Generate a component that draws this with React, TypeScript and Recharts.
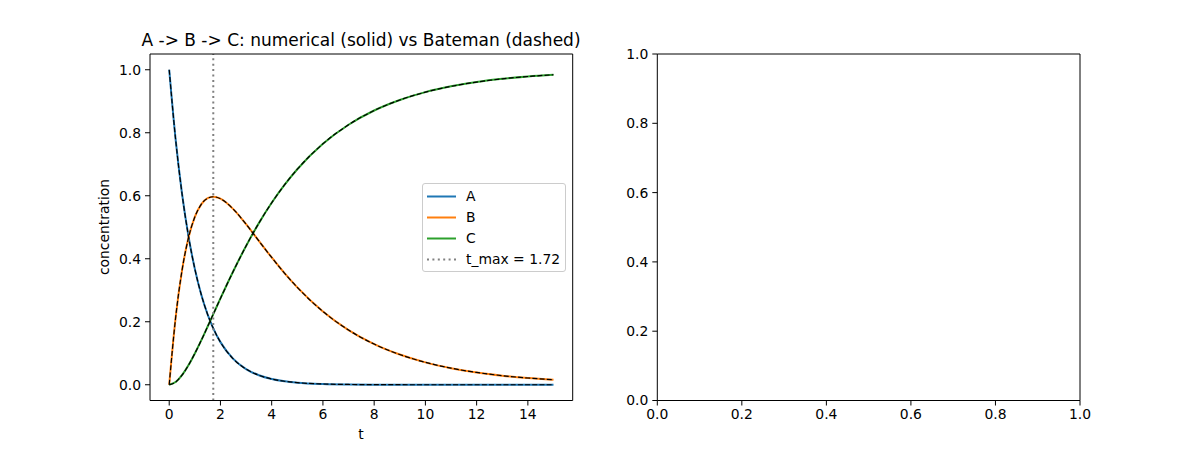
import React from 'react'
import { LineChart, Line, XAxis, YAxis, ReferenceLine } from 'recharts'

// ── Data ─────────────────────────────────────────────────────────────────────
const T = [0, 0.25, 0.5, 0.75, 1, 1.25, 1.5, 1.72, 2, 2.5, 3, 3.5, 4, 4.5, 5, 6, 7, 8, 9, 10, 11, 12, 13, 14, 15]
const A_VALS = [1, 0.7788, 0.6065, 0.4724, 0.3679, 0.2865, 0.2231, 0.1791, 0.1353, 0.0821, 0.0498, 0.0302, 0.0183, 0.0111, 0.0067, 0.0025, 0.0009, 0.0003, 0.0001, 0, 0, 0, 0, 0, 0]
const B_VALS = [0, 0.2127, 0.3631, 0.4659, 0.5327, 0.5726, 0.5921, 0.5969, 0.5907, 0.5576, 0.5097, 0.4567, 0.4041, 0.3544, 0.3091, 0.2326, 0.1737, 0.1291, 0.0959, 0.0711, 0.0527, 0.039, 0.0289, 0.0214, 0.0159]
const C_VALS = [0, 0.0085, 0.0304, 0.0617, 0.0994, 0.1409, 0.1848, 0.224, 0.274, 0.3603, 0.4405, 0.5131, 0.5776, 0.6345, 0.6842, 0.7649, 0.8254, 0.8706, 0.904, 0.9289, 0.9473, 0.961, 0.9711, 0.9786, 0.9841]
const T_MAX = 1.72

const X_TICKS = [0, 2, 4, 6, 8, 10, 12, 14]
const Y_TICKS = [0, 0.2, 0.4, 0.6, 0.8, 1.0]
const EMPTY_TICKS = [0, 0.2, 0.4, 0.6, 0.8, 1.0]

const SERIES = [
  { key: 'A', color: '#1f77b4' },
  { key: 'B', color: '#ff7f0e' },
  { key: 'C', color: '#2ca02c' },
]

const rows = T.map((t, i) => ({ t, A: A_VALS[i], B: B_VALS[i], C: C_VALS[i] }))
// empty second panel: just the two corners so the axes get a domain
const emptyRows = [{ x: 0, y: 0 }, { x: 1, y: 1 }]

const FONT = '"DejaVu Sans", sans-serif'
const tickStyle = { fill: '#000', fontSize: 13.9, fontFamily: FONT }
const fmt1 = (v: number) => v.toFixed(1)
const DOTTED = '2 3.4'

function Txt({ x, y, size = 13.9, rotate = 0, children }: { x: number; y: number; size?: number; rotate?: number; children: React.ReactNode }) {
  return (
    <div
      style={{
        position: 'absolute', left: x, top: y, fontSize: size, fontFamily: FONT, lineHeight: 1,
        whiteSpace: 'nowrap', color: '#000',
        transform: `translate(-50%, -50%) rotate(${rotate}deg)`,
      }}
    >
      {children}
    </div>
  )
}

function LegendBox() {
  const items = [
    ...SERIES.map((s) => ({ label: s.key, color: s.color, dash: undefined as string | undefined })),
    { label: 't_max = 1.72', color: '#808080', dash: DOTTED },
  ]
  return (
    <div
      style={{
        position: 'absolute', left: 422, top: 183, width: 144, height: 89,
        border: '1px solid #cccccc', borderRadius: 3, background: 'rgba(255,255,255,0.8)',
        boxSizing: 'border-box',
      }}
    >
      {items.map((it, i) => (
        <div key={it.label} style={{ position: 'absolute', left: 0, top: 4 + i * 21, height: 17, width: 140 }}>
          <svg width={36} height={17} style={{ position: 'absolute', left: 3, top: 0 }}>
            <line x1={1} x2={30} y1={8.5} y2={8.5} stroke={it.color} strokeWidth={2} strokeDasharray={it.dash} />
          </svg>
          <span style={{ position: 'absolute', left: 43, top: 1.5, fontSize: 13.9, fontFamily: FONT, lineHeight: 1 }}>{it.label}</span>
        </div>
      ))}
    </div>
  )
}

export default function App() {
  return (
    <div style={{ position: 'fixed', left: 0, top: 0, width: 1200, height: 450, background: '#fff' }}>
      {/* Left: kinetics */}
      <div style={{ position: 'absolute', left: 0, top: 0 }}>
        <LineChart width={600} height={450} data={rows} margin={{ top: 54, right: 27.3, bottom: 19.5, left: 100 }}>
          <XAxis
            dataKey="t" type="number" domain={[-0.75, 15.75]} ticks={X_TICKS} allowDataOverflow
            height={30} tickSize={5} tickMargin={4} tick={tickStyle} stroke="#000" tickLine={{ stroke: '#000' }}
          />
          <YAxis
            type="number" domain={[-0.05, 1.05]} ticks={Y_TICKS} allowDataOverflow tickFormatter={fmt1}
            width={50} tickSize={5} tickMargin={4} tick={tickStyle} stroke="#000" tickLine={{ stroke: '#000' }}
          />
          {SERIES.map((s) => (
            <Line key={s.key} dataKey={s.key} type="monotone" stroke={s.color} strokeWidth={2} dot={false} isAnimationActive={false} />
          ))}
          {SERIES.map((s) => (
            <Line key={s.key + '-bateman'} dataKey={s.key} type="monotone" stroke="#000" strokeWidth={1.2} strokeDasharray="5 2.2" dot={false} isAnimationActive={false} />
          ))}
          <ReferenceLine x={T_MAX} stroke="#808080" strokeWidth={2} strokeDasharray={DOTTED} />
          {/* top and right spines */}
          <ReferenceLine y={1.05} stroke="#000" strokeWidth={1} ifOverflow="visible" />
          <ReferenceLine x={15.75} stroke="#000" strokeWidth={1} ifOverflow="visible" />
        </LineChart>
      </div>

      {/* Right: empty axes */}
      <div style={{ position: 'absolute', left: 600, top: 0 }}>
        <LineChart width={600} height={450} data={emptyRows} margin={{ top: 54, right: 120, bottom: 19.5, left: 7.3 }}>
          <XAxis
            dataKey="x" type="number" domain={[0, 1]} ticks={EMPTY_TICKS} tickFormatter={fmt1} allowDataOverflow
            height={30} tickSize={5} tickMargin={4} tick={tickStyle} stroke="#000" tickLine={{ stroke: '#000' }}
          />
          <YAxis
            dataKey="y" type="number" domain={[0, 1]} ticks={EMPTY_TICKS} tickFormatter={fmt1} allowDataOverflow
            width={50} tickSize={5} tickMargin={4} tick={tickStyle} stroke="#000" tickLine={{ stroke: '#000' }}
          />
          <Line dataKey="y" stroke="none" dot={false} activeDot={false} isAnimationActive={false} />
          <ReferenceLine y={1} stroke="#000" strokeWidth={1} ifOverflow="visible" />
          <ReferenceLine x={1} stroke="#000" strokeWidth={1} ifOverflow="visible" />
        </LineChart>
      </div>

      <Txt x={361} y={40} size={17}>A -&gt; B -&gt; C: numerical (solid) vs Bateman (dashed)</Txt>
      <Txt x={361} y={435}>t</Txt>
      <Txt x={105} y={227} rotate={-90}>concentration</Txt>
      <LegendBox />
    </div>
  )
}
